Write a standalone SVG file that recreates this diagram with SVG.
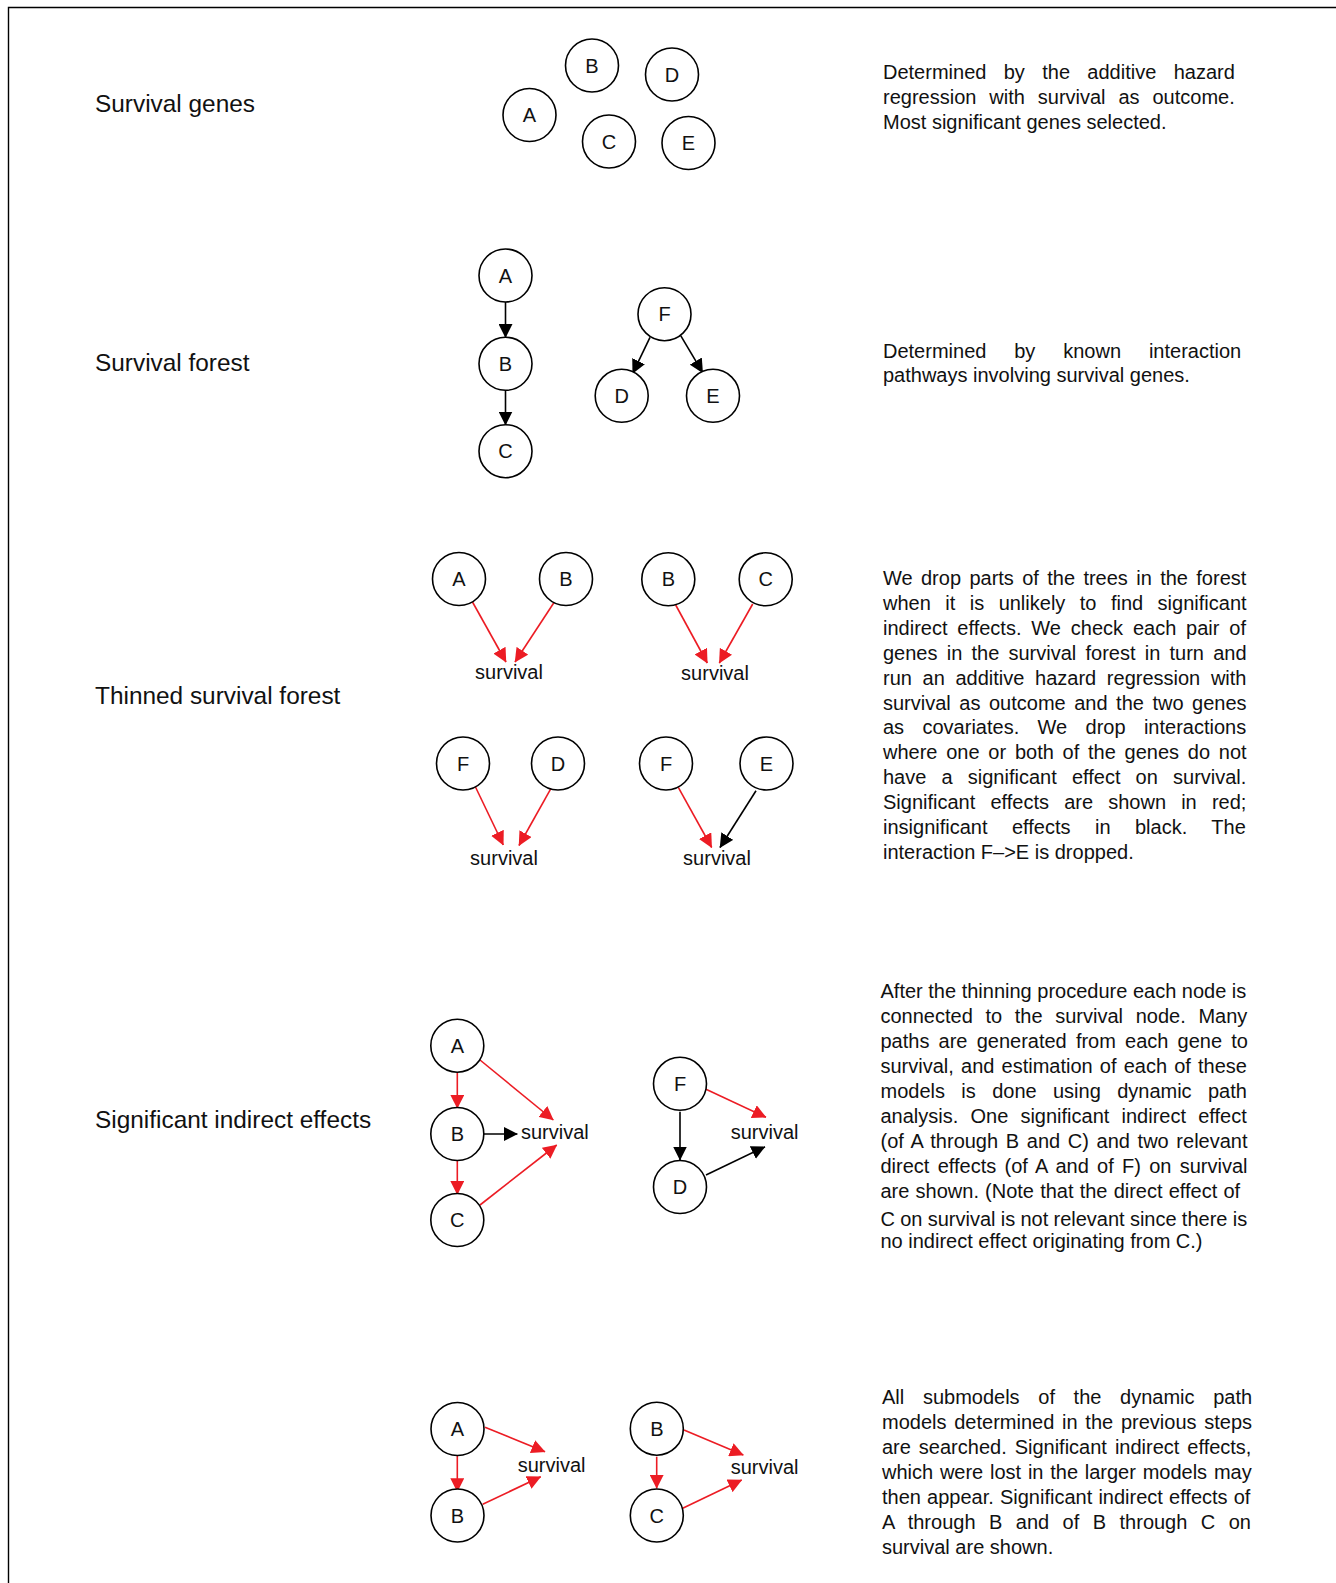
<svg xmlns="http://www.w3.org/2000/svg" width="1336" height="1583" viewBox="0 0 1336 1583">
<style>
text{font-family:"Liberation Sans",Arial,Helvetica,sans-serif;fill:#111}
.lab{font-size:24.4px}
.desc{font-size:20px}
.nl{font-size:20px;text-anchor:middle}
.sv{font-size:20px}
.node circle{fill:#fff;stroke:#000;stroke-width:1.6}
.blk{stroke:#000;stroke-width:1.6;fill:none;marker-end:url(#ab)}
.red{stroke:#ec1c24;stroke-width:1.6;fill:none;marker-end:url(#ar)}
</style>
<defs>
<marker id="ab" viewBox="0 0 14 14" markerWidth="14" markerHeight="14" refX="13.5" refY="7" orient="auto" markerUnits="userSpaceOnUse"><path d="M0,0 L14,7 L0,14 z" fill="#000"/></marker>
<marker id="ar" viewBox="0 0 14 14" markerWidth="14" markerHeight="14" refX="13.5" refY="7" orient="auto" markerUnits="userSpaceOnUse"><path d="M0,0 L14,7 L0,14 z" fill="#ec1c24"/></marker>
</defs>
<rect width="1336" height="1583" fill="#fff"/>
<path d="M8.5,1583 V7.5 H1336" fill="none" stroke="#000" stroke-width="1.4"/>

<g id="labels">
<text class="lab" x="95" y="112">Survival genes</text>
<text class="lab" x="95" y="371">Survival forest</text>
<text class="lab" x="95" y="704">Thinned survival forest</text>
<text class="lab" x="95" y="1128">Significant indirect effects</text>
</g>

<g id="desc1" class="desc">
<text x="883" y="78.5" word-spacing="11.8">Determined by the additive hazard</text>
<text x="883" y="103.5" word-spacing="7.35">regression with survival as outcome.</text>
<text x="883" y="128.5">Most significant genes selected.</text>
</g>
<g id="desc2" class="desc">
<text x="883" y="357.5" word-spacing="22.3">Determined by known interaction</text>
<text x="883" y="382.4">pathways involving survival genes.</text>
</g>
<g id="desc3" class="desc">
<text x="883" y="585" word-spacing="2.8">We drop parts of the trees in the forest</text>
<text x="883" y="609.9" word-spacing="8.9">when it is unlikely to find significant</text>
<text x="883" y="634.8" word-spacing="4.3">indirect effects. We check each pair of</text>
<text x="883" y="659.7" word-spacing="3.65">genes in the survival forest in turn and</text>
<text x="883" y="684.6" word-spacing="5.1">run an additive hazard regression with</text>
<text x="883" y="709.5" word-spacing="2.97">survival as outcome and the two genes</text>
<text x="883" y="734.4" word-spacing="12.8">as covariates. We drop interactions</text>
<text x="883" y="759.3" word-spacing="3.2">where one or both of the genes do not</text>
<text x="883" y="784.2" word-spacing="9.6">have a significant effect on survival.</text>
<text x="883" y="809.1" word-spacing="9.6">Significant effects are shown in red;</text>
<text x="883" y="834" word-spacing="18.9">insignificant effects in black. The</text>
<text x="883" y="858.9">interaction F–&gt;E is dropped.</text>
</g>
<g id="desc4" class="desc">
<text x="880.5" y="997.5">After the thinning procedure each node is</text>
<text x="880.5" y="1022.5" word-spacing="7.1">connected to the survival node. Many</text>
<text x="880.5" y="1047.5" word-spacing="3.6">paths are generated from each gene to</text>
<text x="880.5" y="1072.5" word-spacing="1.6">survival, and estimation of each of these</text>
<text x="880.5" y="1097.5" word-spacing="10.8">models is done using dynamic path</text>
<text x="880.5" y="1122.5" word-spacing="6.6">analysis. One significant indirect effect</text>
<text x="880.5" y="1147.5" word-spacing="2.1">(of A through B and C) and two relevant</text>
<text x="880.5" y="1172.5" word-spacing="2.7">direct effects (of A and of F) on survival</text>
<text x="880.5" y="1197.5" word-spacing="0.6">are shown. (Note that the direct effect of</text>
<text x="880.5" y="1225.5" word-spacing="-0.3">C on survival is not relevant since there is</text>
<text x="880.5" y="1247.5">no indirect effect originating from C.)</text>
</g>
<g id="desc5" class="desc">
<text x="882" y="1404" word-spacing="13.1">All submodels of the dynamic path</text>
<text x="882" y="1429" word-spacing="2.2">models determined in the previous steps</text>
<text x="882" y="1454" word-spacing="2.4">are searched. Significant indirect effects,</text>
<text x="882" y="1479" word-spacing="1.2">which were lost in the larger models may</text>
<text x="882" y="1504" word-spacing="0.6">then appear. Significant indirect effects of</text>
<text x="882" y="1529" word-spacing="7.9">A through B and of B through C on</text>
<text x="882" y="1554">survival are shown.</text>
</g>

<g id="connectors">
<line class="blk" x1="505.5" y1="302" x2="505.5" y2="337.5"/>
<line class="blk" x1="505.5" y1="390" x2="505.5" y2="425"/>
<line class="blk" x1="650" y1="337.3" x2="632.7" y2="373.3"/>
<line class="blk" x1="680.7" y1="335.7" x2="702.7" y2="372.7"/>
<line class="red" x1="472.5" y1="602" x2="506" y2="662"/>
<line class="red" x1="555" y1="601" x2="515" y2="662"/>
<line class="red" x1="675.7" y1="605" x2="707.3" y2="663"/>
<line class="red" x1="752.7" y1="604" x2="719.3" y2="663"/>
<line class="red" x1="475" y1="786" x2="503.3" y2="845"/>
<line class="red" x1="551" y1="788.3" x2="519" y2="845.5"/>
<line class="red" x1="678.3" y1="787.3" x2="711.7" y2="847.5"/>
<line class="blk" x1="756" y1="790.7" x2="720" y2="847.5"/>
<line class="red" x1="457.3" y1="1072.3" x2="457.3" y2="1108.3"/>
<line class="red" x1="457.3" y1="1160.7" x2="457.3" y2="1194.5"/>
<line class="red" x1="480" y1="1060" x2="553.3" y2="1120"/>
<line class="blk" x1="484" y1="1134" x2="517.3" y2="1134"/>
<line class="red" x1="480" y1="1205" x2="556.7" y2="1145"/>
<line class="blk" x1="680" y1="1111.7" x2="680" y2="1160"/>
<line class="red" x1="706" y1="1089.3" x2="766" y2="1117.3"/>
<line class="blk" x1="706" y1="1175" x2="765" y2="1146.7"/>
<line class="red" x1="457.3" y1="1456" x2="457.3" y2="1491.7"/>
<line class="red" x1="485" y1="1427.3" x2="545" y2="1451.7"/>
<line class="red" x1="482.7" y1="1504.3" x2="540.7" y2="1476.7"/>
<line class="red" x1="656.7" y1="1456.7" x2="656.7" y2="1488.3"/>
<line class="red" x1="684" y1="1430" x2="743.3" y2="1455"/>
<line class="red" x1="682.7" y1="1508.3" x2="741.7" y2="1480"/>
</g>

<g id="survival-labels" class="sv">
<text x="509" y="679" text-anchor="middle">survival</text>
<text x="715" y="680" text-anchor="middle">survival</text>
<text x="504" y="864.5" text-anchor="middle">survival</text>
<text x="717" y="864.5" text-anchor="middle">survival</text>
<text x="521" y="1139">survival</text>
<text x="730.7" y="1139">survival</text>
<text x="517.7" y="1471.5">survival</text>
<text x="730.7" y="1473.5">survival</text>
</g>

<g id="s1-A" class="node"><circle cx="529.5" cy="115" r="26.5"/><text class="nl" x="529.5" y="122">A</text></g>
<g id="s1-B" class="node"><circle cx="592" cy="65.5" r="26.5"/><text class="nl" x="592" y="72.5">B</text></g>
<g id="s1-C" class="node"><circle cx="609" cy="141.5" r="26.5"/><text class="nl" x="609" y="148.5">C</text></g>
<g id="s1-D" class="node"><circle cx="672" cy="74.5" r="26.5"/><text class="nl" x="672" y="81.5">D</text></g>
<g id="s1-E" class="node"><circle cx="688.5" cy="143" r="26.5"/><text class="nl" x="688.5" y="150">E</text></g>

<g id="s2-A" class="node"><circle cx="505.5" cy="275.5" r="26.5"/><text class="nl" x="505.5" y="282.5">A</text></g>
<g id="s2-B" class="node"><circle cx="505.5" cy="363.8" r="26.5"/><text class="nl" x="505.5" y="370.8">B</text></g>
<g id="s2-C" class="node"><circle cx="505.5" cy="451.2" r="26.5"/><text class="nl" x="505.5" y="458.2">C</text></g>
<g id="s2-F" class="node"><circle cx="664.5" cy="314.2" r="26.5"/><text class="nl" x="664.5" y="321.2">F</text></g>
<g id="s2-D" class="node"><circle cx="621.7" cy="395.8" r="26.5"/><text class="nl" x="621.7" y="402.8">D</text></g>
<g id="s2-E" class="node"><circle cx="713" cy="395.8" r="26.5"/><text class="nl" x="713" y="402.8">E</text></g>

<g id="s3-A1" class="node"><circle cx="459" cy="579" r="26.5"/><text class="nl" x="459" y="586">A</text></g>
<g id="s3-B1" class="node"><circle cx="566" cy="579" r="26.5"/><text class="nl" x="566" y="586">B</text></g>
<g id="s3-B2" class="node"><circle cx="668.3" cy="579.3" r="26.5"/><text class="nl" x="668.3" y="586.3">B</text></g>
<g id="s3-C2" class="node"><circle cx="765.7" cy="579.3" r="26.5"/><text class="nl" x="765.7" y="586.3">C</text></g>
<g id="s3-F3" class="node"><circle cx="463" cy="763.5" r="26.5"/><text class="nl" x="463" y="770.5">F</text></g>
<g id="s3-D3" class="node"><circle cx="558" cy="763.5" r="26.5"/><text class="nl" x="558" y="770.5">D</text></g>
<g id="s3-F4" class="node"><circle cx="666" cy="763.5" r="26.5"/><text class="nl" x="666" y="770.5">F</text></g>
<g id="s3-E4" class="node"><circle cx="766.5" cy="763.5" r="26.5"/><text class="nl" x="766.5" y="770.5">E</text></g>

<g id="s4-A" class="node"><circle cx="457.3" cy="1045.7" r="26.5"/><text class="nl" x="457.3" y="1052.7">A</text></g>
<g id="s4-B" class="node"><circle cx="457.3" cy="1134" r="26.5"/><text class="nl" x="457.3" y="1141">B</text></g>
<g id="s4-C" class="node"><circle cx="457.3" cy="1220" r="26.5"/><text class="nl" x="457.3" y="1227">C</text></g>
<g id="s4-F" class="node"><circle cx="680" cy="1083.8" r="26.5"/><text class="nl" x="680" y="1090.8">F</text></g>
<g id="s4-D" class="node"><circle cx="680" cy="1187" r="26.5"/><text class="nl" x="680" y="1194">D</text></g>

<g id="s5-A" class="node"><circle cx="457.5" cy="1429" r="26.5"/><text class="nl" x="457.5" y="1436">A</text></g>
<g id="s5-B" class="node"><circle cx="457.5" cy="1515.5" r="26.5"/><text class="nl" x="457.5" y="1522.5">B</text></g>
<g id="s5-B2" class="node"><circle cx="656.8" cy="1428.7" r="26.5"/><text class="nl" x="656.8" y="1435.7">B</text></g>
<g id="s5-C2" class="node"><circle cx="656.8" cy="1515.5" r="26.5"/><text class="nl" x="656.8" y="1522.5">C</text></g>
</svg>
